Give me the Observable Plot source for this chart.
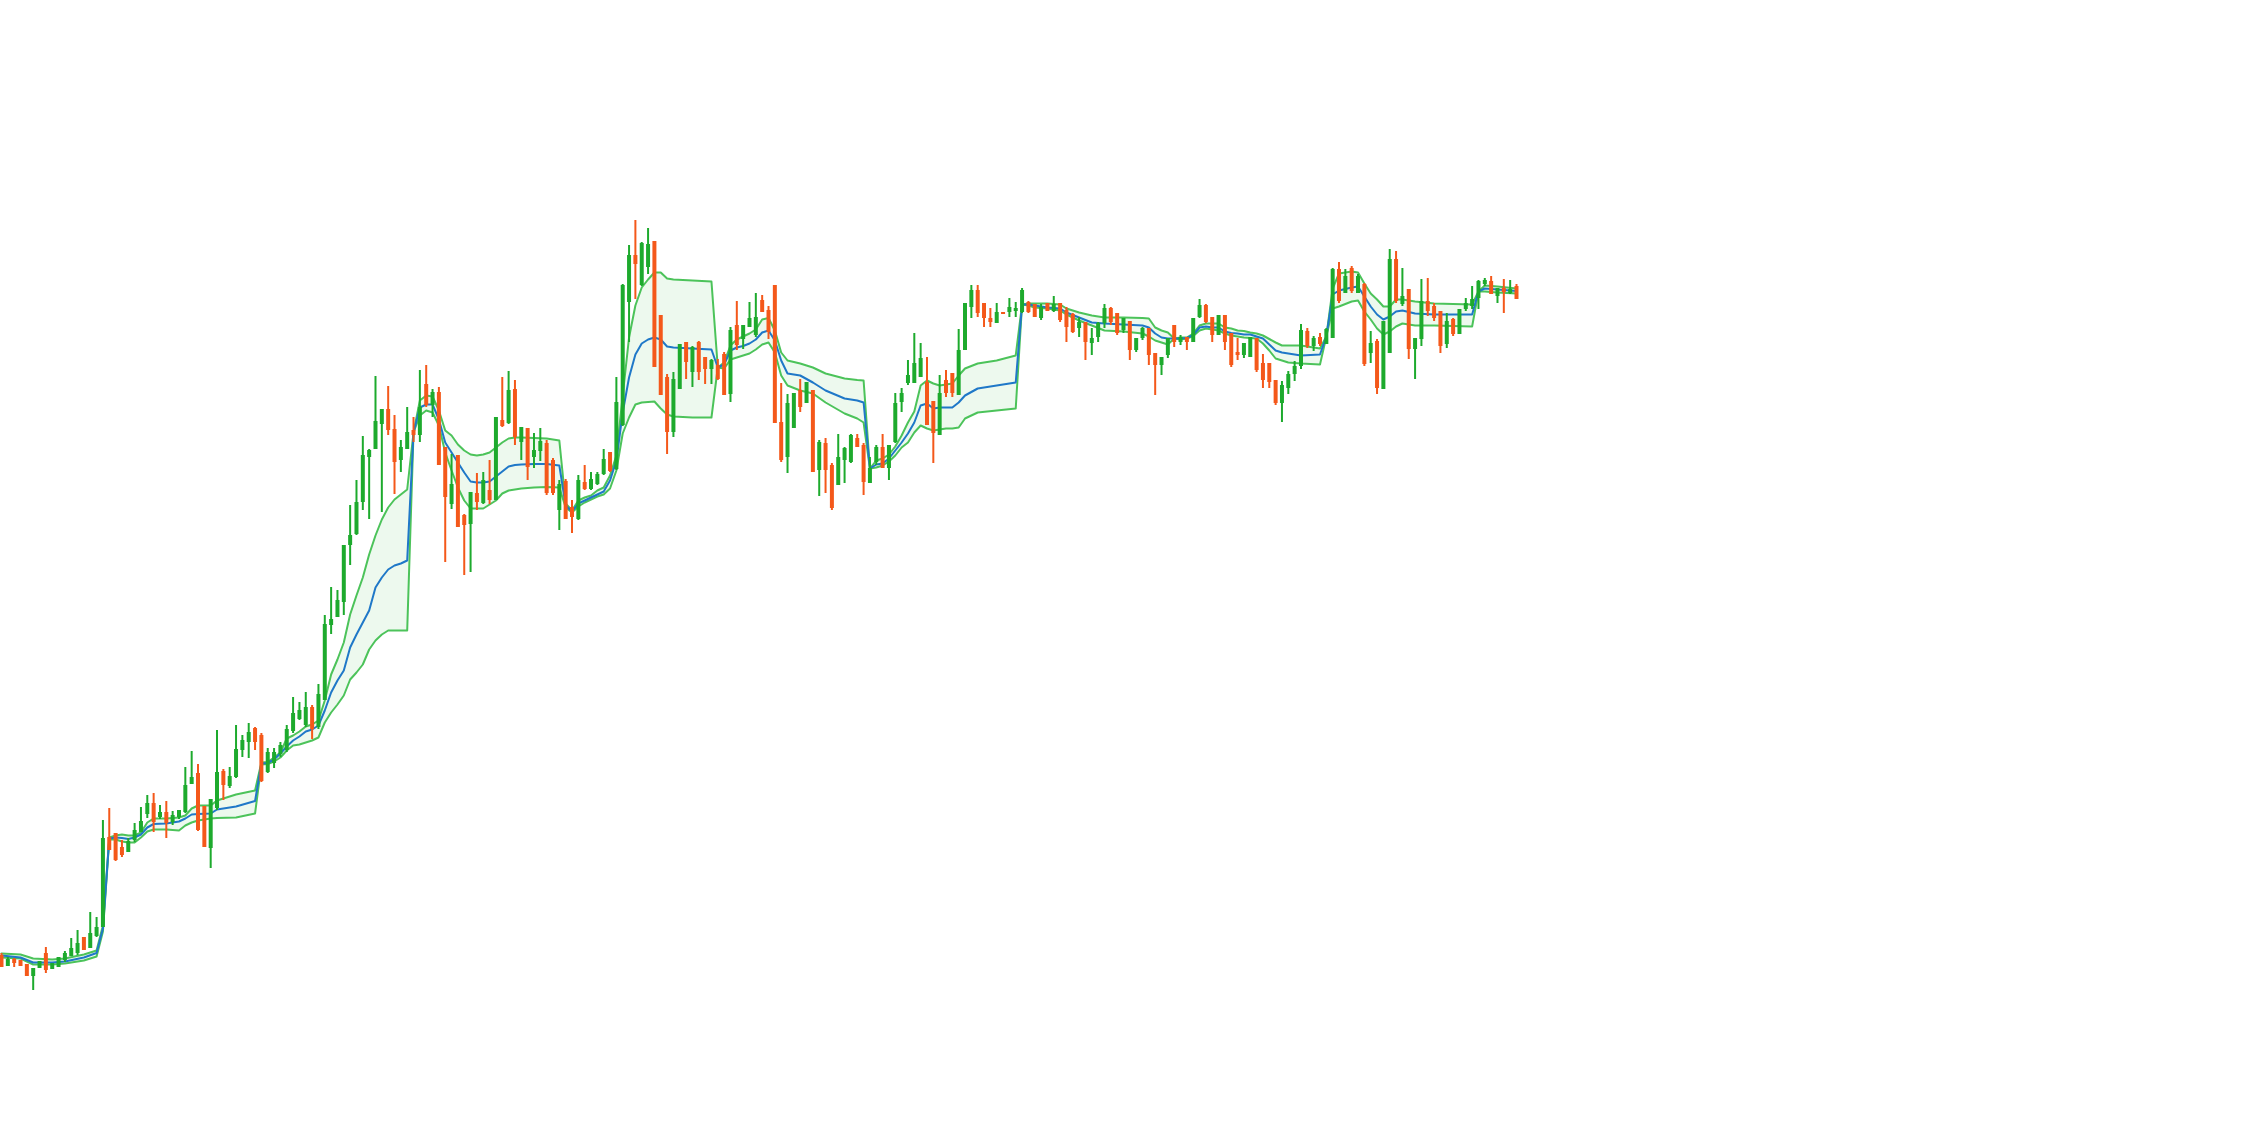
<!DOCTYPE html>
<html><head><meta charset="utf-8">
<script src="https://cdn.jsdelivr.net/npm/d3@7"></script>
<script src="https://cdn.jsdelivr.net/npm/@observablehq/plot@0.6"></script>
<style>html,body{margin:0;padding:0;background:#fff;overflow:hidden}</style>
</head><body><div id="chart"></div>
<script>
// Daily OHLC prices, bar 0..239
const open = [45,34,41,40,36,24,32,47,31,33, 40,44,47,63,52,64,73,163,167,153, 148,160,168,186,197,183,188,178,183,188, 216,227,194,152,192,229,214,223,250,258, 272,265,228,237,246,250,269,281,275,293, 273,300,375,383,398,455,466,498,543,551, 576,591,571,540,551,570,565,616,595,608, 553,496,545,485,476,507,497,510,500,580, 577,611,558,572,543,549,557,540,490,519, 493,481,518,511,516,526,548,531,575,698, 745,715,733,759,685,623,568,611,658,628, 658,643,631,635,646,606,675,661,673,665, 700,690,715,578,543,572,610,597,610,530, 557,535,515,540,538,562,555,517,538,553, 532,558,598,617,617,623,618,599,565,620, 627,605,650,693,710,697,682,677,688,688, 689,688,698,696,682,697,689,697,690,686, 672,678,657,663,677,692,687,670,679,650, 662,672,647,635,645,675,658,663,658,683, 695,683,665,685,667,648,645,643,662,637, 637,620,597,612,626,634,669,654,663,656, 662,731,707,732,707,716,647,659,611,647, 741,696,711,651,661,699,694,689,656,681, 666,691,694,702,716,719,704,712,707,714];
const high = [47,43,42,40,36,32,39,53,37,43, 49,62,70,63,88,83,180,192,167,160, 162,177,193,205,207,195,199,189,190,233, 249,236,194,201,270,231,233,275,265,277, 273,267,252,252,258,275,303,298,308,295, 316,385,413,410,455,495,520,564,551,624, 591,614,585,560,593,583,630,635,611,613, 553,546,545,486,508,527,528,540,583,623, 629,620,573,572,567,572,560,542,520,521, 500,525,535,528,528,551,548,623,716,755, 780,758,772,759,685,626,628,656,658,654, 659,643,641,641,648,673,699,675,698,707, 705,694,715,617,606,607,621,618,610,560, 562,537,566,553,566,566,557,543,555,566, 555,607,612,640,667,657,643,599,625,630, 627,671,697,715,715,697,692,697,688,702, 698,712,699,696,696,697,704,697,693,687, 683,678,672,678,696,693,687,682,679,662, 673,672,647,643,662,675,665,663,682,701, 696,683,685,685,667,662,657,663,662,646, 637,620,619,629,639,676,672,664,667,672, 732,738,731,734,726,717,669,661,679,751, 749,732,711,662,721,722,697,689,687,682, 691,702,714,720,722,724,712,721,720,716];
const low = [33,34,33,34,24,10,32,27,31,33, 38,44,45,50,52,63,73,150,139,143, 148,158,168,182,168,181,162,175,181,187, 216,169,153,132,190,200,212,222,243,242, 250,218,227,232,243,248,267,280,273,261, 271,300,366,383,385,435,465,490,481,551, 488,565,506,528,551,558,558,593,583,535, 438,491,473,425,428,490,496,496,500,573, 576,555,540,520,532,539,505,505,470,481, 467,480,510,510,515,525,528,530,574,658, 701,714,726,633,605,546,563,611,621,613, 620,616,616,620,605,598,650,651,673,663, 688,661,577,538,527,572,588,597,528,504, 507,490,515,517,537,553,505,517,535,532, 520,557,588,615,617,623,575,537,565,603, 603,605,650,682,683,673,673,677,686,683, 683,687,687,683,680,689,688,678,658,667, 663,640,645,658,672,675,665,667,640,648, 660,635,605,625,642,653,655,650,658,682, 677,658,665,650,633,640,642,643,628,612, 612,595,578,606,619,631,652,649,654,656, 662,697,707,707,707,634,637,606,611,647, 697,694,641,621,654,684,679,647,652,664, 666,689,691,691,714,706,697,687,706,701];
const close = [33,41,37,34,24,32,39,30,37,43, 47,52,57,50,67,73,162,150,140,145, 159,170,179,197,178,188,177,185,190,215, 223,170,153,201,228,215,224,251,260,268, 258,219,248,248,255,271,287,290,293,271, 306,376,381,400,455,465,498,545,550,579, 591,570,538,553,568,565,593,595,608,535, 503,516,473,475,508,498,520,500,583,574, 610,563,573,533,550,559,507,507,516,481, 483,520,511,521,526,541,529,598,715,745, 736,757,756,633,605,568,621,656,638,653, 628,631,640,621,605,670,655,675,682,683, 688,668,577,540,597,607,593,618,528,558, 530,492,543,552,565,553,518,532,553,532, 555,597,607,625,637,642,575,567,607,607, 607,650,697,710,687,682,678,688,686,693, 692,710,688,683,693,689,696,680,673,668, 678,658,662,677,692,678,667,682,650,662, 672,645,635,643,662,658,663,658,682,695, 678,665,685,658,635,645,657,663,630,620, 618,597,615,626,634,670,654,662,656,671, 731,699,724,709,724,636,657,612,679,741, 699,704,651,662,699,689,682,654,679,666, 691,697,701,719,720,706,712,708,711,701];

// Anchored average with upper / lower deviation bands (vertices by bar)
const bandIdx = [0,3,5,8,10,13,15,16, 17,18,19,20,21,22,23,24,26,28,29,30,31,33,34,37,40, 41,42,43,44,45,46,47,48,49,50,51,52,53,54,55,56,57,58,59,60,61,62,63,64, 65,66,67,68,69,70,71,72,73,74,75,76,77,78,79,80,81,82,84,86,88, 89,90,91,92,93,94,95,96,97,98,99,100,101,102,103,104,105,106,109,112, 113,114,115,116,117,118,119,120,121,122,123,124,126,128,130,133,135,136, 137,138,139,140,141,142,143,144,145,146,147,148,149,150,151,152,154,157,160, 161,162,163,165,167,168,170,172,174,177,180,181,182,183,184, 185,186,187,188,189,190,191,192,193,194,195,196,197,198,199,200,201,202,203,205,208, 209,210,211,213,214,215,216,217,218,219,220,221,223,226,232, 233,234,236,239];
const upper = [47,46,42,41,42,46,50,75, 163,165,166,165,165,168,178,182,182,183,185,192,195,195,200,206,210, 238,238.5,243,248,262,265,269,274,276,280,300,326,341,358,386,405,423,446,465,481,493,501,506,511, 568,600,605,604,590,570,565,556,550,546,545,546,548,553,558,562,563,563,562.5,562,560, 497,490,500,503,505,510,513,525,545,605,663,695,713,721,728,728,722,721,720,719, 633,638,655,661,664,667,671,681,682.5,670,648,640,637,633,627,622,620.5,620, 532,540,542,546,554,565,578,589,615,620,617,615,616,617,625,632,637,640,645, 696,697,697,697,696,692,688,685,683,683,682.5,682,673,670,668, 662,663,663,667,675,677,677,677,673,672,670,669.5,668,667,665,661.5,658,655,655,655,652, 664,712,727,729,728,717,707,701,694,694,701,701,699,697,696, 709,715,714,712];
const mid = [45,43,38,38,39,43,47.5,72, 162,163,162.5,161.5,163,166,173,176.5,177,179,182,186,186.5,187,191,194,199.5, 237,237.5,241,247,254,260,264,269,271,275,290,308,320,330,353,366,378,390,413,423,431,435,437,440, 568,593,596,596,581,558,548,538,528,519,518,518,519,524,529,534,535.5,536,536.5,536.5,535, 495,489,497,500,503,506,509,520,540,588,623,646,657,661,663,661,654,653,652,651, 633,636,650,653,654.5,657,661,668,670,660,640,627,625,618,610,602,600,598, 532,536,537,542,550,558,567,578,595,597,592,593,593,593,598,605,612,615,618, 696,696,695,693,692,688,683,678,677,676,675,673,667,663,662, 662,662,662.5,665.5,673,674,673,673,669,667.5,667,666,666,664,662,656,650,648,647,645,646, 664,706,710,713,714,704,694,686,681,684,689,690,687,686,686, 709,712,711,709.5];
const lower = [43,42,36,36,37,40,44,69, 161,161,159,158,158,163,169,171,171,170,175,178,180,182,182.5,183,187, 236,236.5,239,243,250,255,256,258,260,263,278,288,296,305,321,328,336,351,360,366,370,370,370,370, 568,585,590,588,575,548,530,513,500,492,492,492,496,500,507,510,511,512,513,513.5,513, 493,488,494,498,501,504,506,512,530,567,583,596,598,598.5,599,592,586,584,583,583, 633,632,641,643,645,647,651,656,658,648,625,615,610,607,598,587,582,578, 532,533,535,539,545,553,558,568,575,572,570,571,572,572,573,582,588,590,592, 696,695,693,692,690,686,680,675,670,669,667,664,660,658,656, 662,661,662,664.5,670,672,671,670,667,665,664,663,662.5,662,657,650,642,640,638,637,636, 664,692,694,699,700,689,681,672,666,669,674,677,675,675,674, 709,709,708,707];

const candles = open.map((o, i) => ({i, open: o, high: high[i], low: low[i], close: close[i]}));
const band = bandIdx.map((x, k) => ({i: x, upper: upper[k], mid: mid[k], lower: lower[k]}));

const UP = "#1daa2d", DOWN = "#f4581a";
const BAND = "#4cc35a", MID = "#1f78c8";
const col = d => (d.close >= d.open ? UP : DOWN);

const chart = Plot.plot({
  width: 2268,
  height: 1148,
  marginTop: 0,
  marginBottom: 148,
  marginLeft: 1,
  marginRight: 752,
  x: {domain: [0, 239], axis: null},
  y: {domain: [0, 1000], axis: null},
  color: {type: "identity"},
  marks: [
    Plot.areaY(band, {x: "i", y1: "lower", y2: "upper", fill: BAND, fillOpacity: 0.1}),
    Plot.line(band, {x: "i", y: "upper", stroke: BAND, strokeWidth: 2}),
    Plot.line(band, {x: "i", y: "lower", stroke: BAND, strokeWidth: 2}),
    Plot.line(band, {x: "i", y: "mid", stroke: MID, strokeWidth: 2}),
    Plot.ruleX(candles, {x: "i", y1: "low", y2: "high", stroke: col, strokeWidth: 2}),
    Plot.ruleX(candles, {x: "i", y1: "open", y2: "close", stroke: col, strokeWidth: 4})
  ]
});
document.getElementById("chart").appendChild(chart);
</script>
</body></html>
